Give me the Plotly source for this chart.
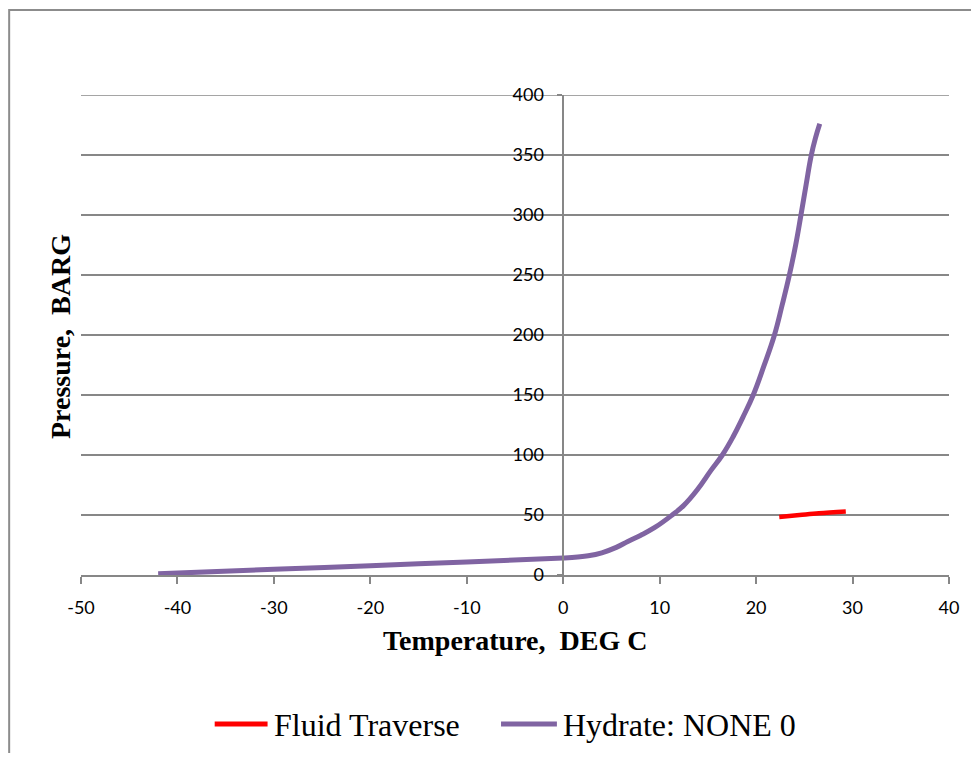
import plotly.graph_objects as go

# Hydrate curve (Temperature degC, Pressure barg)
hyd_t = [-42.0, -30.0, -20.0, -10.0, 0.0, 1.5, 2.6, 4.0, 5.5, 6.7, 8.0, 9.5, 11.3, 12.5, 13.9, 15.3,
         16.5, 17.6, 18.6, 19.7, 20.8, 21.9, 22.7, 23.45, 24.1, 24.65, 25.2, 25.7, 26.15, 26.6]
hyd_p = [1.0, 4.7, 7.8, 10.9, 14.2, 15.0, 16.0, 18.5, 23.0, 28.0, 33.0, 39.6, 50.0, 58.0, 71.0, 87.0,
         100.0, 115.0, 131.0, 150.0, 174.0, 200.0, 225.0, 250.0, 275.0, 300.0, 326.0, 349.0, 364.0, 376.0]

# Fluid traverse
flu_t = [22.4, 24.5, 26.5, 29.3]
flu_p = [48.4, 50.0, 51.5, 53.0]

series_names = ["Fluid Traverse", "Hydrate: NONE 0"]
series_colors = ["#FF0000", "#8064A2"]

x_ticks = [-50, -40, -30, -20, -10, 0, 10, 20, 30, 40]
y_ticks = [0, 50, 100, 150, 200, 250, 300, 350, 400]

X_MIN, X_MAX = -50, 40
Y_MIN, Y_MAX = 0, 400

GRID = "#878787"

fig = go.Figure()
fig.add_trace(go.Scatter(x=flu_t, y=flu_p, mode="lines", name=series_names[0], showlegend=False,
                         line=dict(color=series_colors[0], width=4.5, shape="spline")))
fig.add_trace(go.Scatter(x=hyd_t, y=hyd_p, mode="lines", name=series_names[1], showlegend=False,
                         line=dict(color=series_colors[1], width=5, shape="spline", smoothing=1.2)))

# page body has an 8px margin; figure sized to fit inside the window
W, H = 963, 745
L, T = 73, 87
pw, ph = 870, 480
R = W - L - pw
B = H - T - ph
ypos = (0 - X_MIN) / (X_MAX - X_MIN)


def px_x(x):
    return (x - L) / pw


def px_y(y):
    return (T + ph - y) / ph


# manual legend (line samples + text)
leg_y = 716
leg_items = [(207, 260, 264), (494, 550, 554)]
shapes = [
    dict(type="rect", xref="paper", yref="paper",
         x0=px_x(1), x1=px_x(W + 20), y0=px_y(H + 20), y1=px_y(2),
         line=dict(color="#8c8c8c", width=2), fillcolor="rgba(0,0,0,0)", layer="below"),
    # top gridline at the range edge
    dict(type="line", xref="paper", yref="y", x0=0, x1=1, y0=Y_MAX, y1=Y_MAX,
         line=dict(color=GRID, width=1.5), layer="below"),
]
annotations = [
    dict(text="<b>Pressure,  BARG</b>", textangle=-90, xref="paper", yref="paper",
         x=px_x(52), y=px_y(329), xanchor="center", yanchor="middle", showarrow=False,
         font=dict(family="Liberation Serif", size=28, color="black")),
    dict(text="<b>Temperature,  DEG C</b>", xref="paper", yref="paper",
         x=0.5, y=px_y(632), xanchor="center", yanchor="middle", showarrow=False,
         font=dict(family="Liberation Serif", size=28, color="black")),
]
for (x0, x1, tx), name, col in zip(leg_items, series_names, series_colors):
    shapes.append(dict(type="line", xref="paper", yref="paper", x0=px_x(x0), x1=px_x(x1),
                       y0=px_y(leg_y), y1=px_y(leg_y), line=dict(color=col, width=5)))
    annotations.append(dict(text=name, xref="paper", yref="paper", x=px_x(tx), y=px_y(leg_y + 1),
                            xanchor="left", yanchor="middle", showarrow=False,
                            font=dict(family="Liberation Serif", size=32, color="black")))

fig.update_layout(
    width=W, height=H,
    margin=dict(l=L, r=R, t=T, b=B),
    plot_bgcolor="white", paper_bgcolor="white",
    showlegend=False,
    xaxis=dict(range=[X_MIN, X_MAX], tickvals=x_ticks, ticktext=[str(v) for v in x_ticks],
               showgrid=False, zeroline=False,
               showline=True, linecolor=GRID, linewidth=1.5,
               ticks="outside", ticklen=7, tickcolor=GRID, tickwidth=1.5,
               ticklabelstandoff=9,
               tickfont=dict(family="Lato", size=18, color="black")),
    yaxis=dict(range=[Y_MIN, Y_MAX], tickvals=y_ticks, ticktext=[str(v) for v in y_ticks],
               showgrid=True, gridcolor=GRID,
               gridwidth=1.5, zeroline=False, anchor="free", position=ypos,
               showline=True, linecolor=GRID, linewidth=1.5,
               ticks="outside", ticklen=5, tickcolor=GRID, tickwidth=1.5,
               ticklabelstandoff=10,
               tickfont=dict(family="Lato", size=18, color="black")),
    annotations=annotations,
    shapes=shapes,
)

fig.write_html("out.html")
